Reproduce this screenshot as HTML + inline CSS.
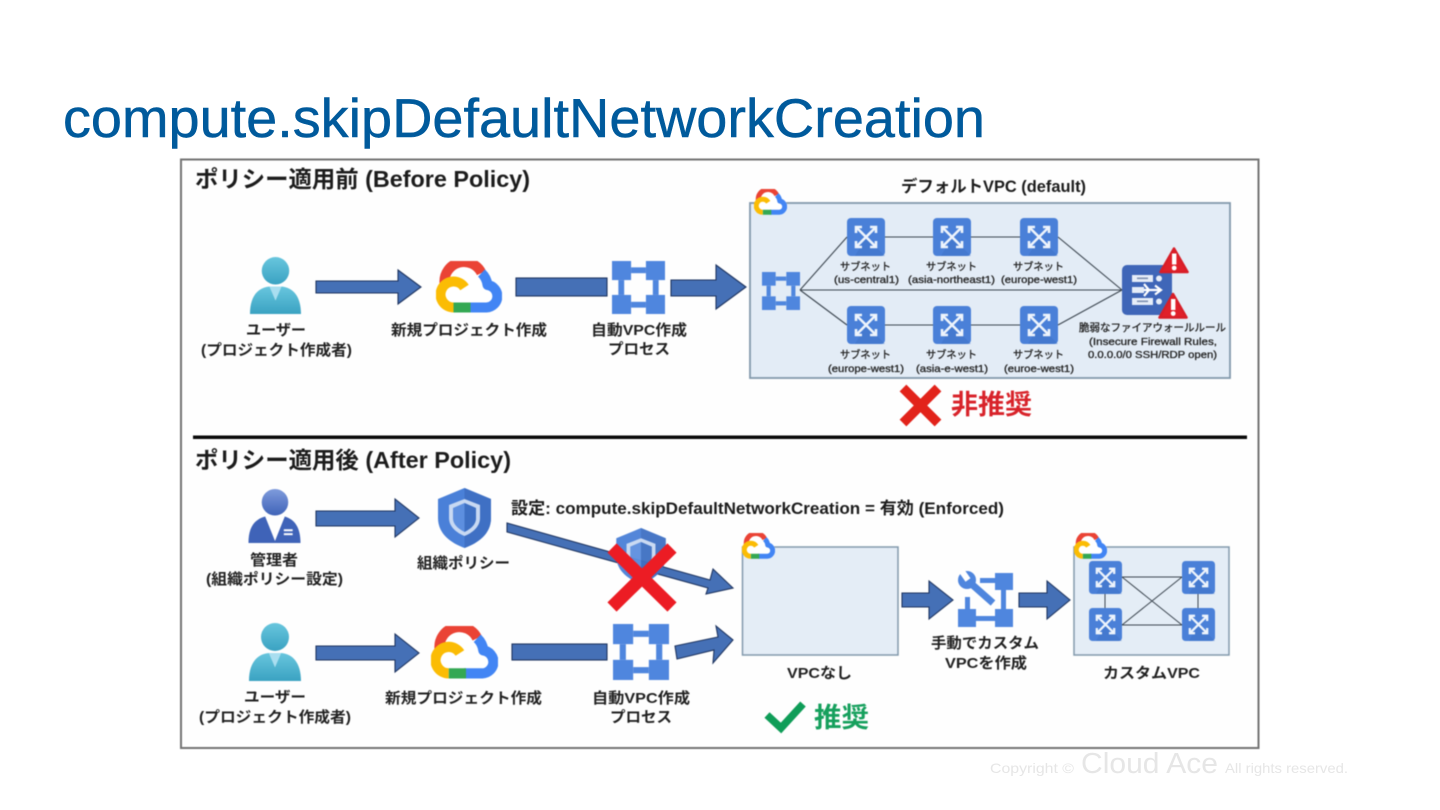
<!DOCTYPE html>
<html lang="ja"><head><meta charset="utf-8"><title>compute.skipDefaultNetworkCreation</title>
<style>
html,body{margin:0;padding:0;background:#fff;width:1440px;height:810px;overflow:hidden}
svg{display:block}
text{font-family:"Liberation Sans","Noto Sans CJK JP",sans-serif;fill:#1c1c1c}
.h{font-size:23px;font-weight:700}
.l{font-size:15px;font-weight:700;fill:#222}
.s{font-size:10.5px;fill:#222;stroke:#222;stroke-width:.3px}
.a{fill:#4570b6;stroke:#1f3560;stroke-width:1.1}
.d{filter:blur(.5px)}
</style></head><body>
<svg width="1440" height="810" viewBox="0 0 1440 810" xmlns="http://www.w3.org/2000/svg">
<defs>
<linearGradient id="tg" x1="0" y1="0" x2="0" y2="1"><stop offset="0" stop-color="#68c6de"/><stop offset="1" stop-color="#3aa2c2"/></linearGradient>
<linearGradient id="bg" x1="0" y1="0" x2="0" y2="1"><stop offset="0" stop-color="#7f9bdc"/><stop offset="1" stop-color="#3f63b8"/></linearGradient>
<symbol id="net" viewBox="0 0 100 100" preserveAspectRatio="none">
<g fill="#4f86de"><rect x="0" y="0" width="36" height="36"/><rect x="64" y="0" width="36" height="36"/><rect x="0" y="64" width="36" height="36"/><rect x="64" y="64" width="36" height="36"/><rect x="36" y="12" width="28" height="11"/><rect x="36" y="77" width="28" height="11"/><rect x="12" y="36" width="11" height="28"/><rect x="77" y="36" width="11" height="28"/></g>
</symbol>
<symbol id="sub" viewBox="0 0 38 38">
<rect width="38" height="38" rx="4" fill="#4a80d8"/><path d="M19 19L38 38H8Z" fill="#3f70c6" opacity=".45"/>
<g stroke="#eef4fc" stroke-width="2.600" fill="none"><path d="M10 10L28 28M28 10L10 28"/><path d="M9 15V9H15M23 9H29V15M29 23V29H23M15 29H9V23"/></g>
</symbol>
<symbol id="cloud" viewBox="0 0 65 52">
<path d="M10 22A20 20 0 0 1 44 8L52 20A14 14 0 0 1 50 50H17A17 17 0 0 1 10 22Z" fill="#fff"/>
<g fill="none" stroke-width="10" stroke-linejoin="round">
<path d="M8 22A19.500 19.500 0 0 1 45 12" stroke="#ea4335"/>
<path d="M45 12A19.500 19.500 0 0 1 51 24A11.300 11.300 0 0 1 50 46.500H32" stroke="#4285f4"/>
<path d="M34 46.500H17" stroke="#34a853"/>
<path d="M17 46.500A13 13 0 1 1 28 26.500" stroke="#fbbc04"/>
</g>
</symbol>
<symbol id="shield" viewBox="0 0 53 60">
<path d="M26.500 0L53 11V30C53 46 40 55 26.500 60C13 55 0 46 0 30V11Z" fill="#4a80d8"/>
<path d="M26.500 0L53 11V30C53 46 40 55 26.500 60Z" fill="#3f70c4"/>
<path d="M26.500 11L42 17V30C42 39 34 45 26.500 48C19 45 11 39 11 30V17Z" fill="#c8d9f2"/>
<path d="M26.500 15L38 20V30C38 37 32 41 26.500 44C21 41 15 37 15 30V20Z" fill="#5d8fdf"/>
<path d="M26.500 15L38 20V30C38 37 32 41 26.500 44Z" fill="#3e70c3"/>
</symbol>
<symbol id="user" viewBox="0 0 52 58">
<circle cx="26" cy="14" r="14" fill="url(#tg)"/>
<path d="M0 58C0 40 8 31 20 30L26 44L32 30C44 31 52 40 52 58Z" fill="url(#tg)"/>
<path d="M20 30H32L26 44Z" fill="#a9def0"/>
</symbol>
<symbol id="admin" viewBox="0 0 53 55">
<circle cx="27" cy="13.500" r="13.500" fill="url(#bg)"/>
<path d="M0 55C0 39 6 31 17 28L27 53L37 28C47 31 53 39 53 55Z" fill="#3f63b8"/>
<rect x="36" y="41" width="9" height="2" fill="#fff"/><rect x="36" y="45" width="9" height="2" fill="#fff"/>
</symbol>
<symbol id="warn" viewBox="0 0 30 27">
<path d="M15 2L28.500 25.500H1.500Z" fill="#e0202a" stroke="#d81e28" stroke-width="2.500" stroke-linejoin="round"/>
<rect x="13" y="7" width="4.400" height="11" fill="#fff"/><circle cx="15.200" cy="21.500" r="2.400" fill="#fff"/>
</symbol>
</defs>

<!-- Title -->
<text x="63" y="137" font-size="55" style="fill:#005a9c;stroke:#005a9c;stroke-width:.5px" textLength="922" lengthAdjust="spacingAndGlyphs">compute.skipDefaultNetworkCreation</text>

<g class="d">
<rect x="181" y="159.500" width="1077.500" height="588.500" fill="#fefefe" stroke="#737373" stroke-width="2"/>

<!-- Section headers -->
<text class="h" x="195" y="187" textLength="335" lengthAdjust="spacingAndGlyphs">ポリシー適用前 (Before Policy)</text>
<rect x="193" y="435.500" width="1054" height="3.500" fill="#0a0a0a"/>
<text class="h" x="195" y="468" textLength="316" lengthAdjust="spacingAndGlyphs">ポリシー適用後 (After Policy)</text>

<!-- BEFORE -->
<use href="#user" x="250" y="257" width="51" height="57"/>
<text class="l" x="246" y="335" textLength="60" lengthAdjust="spacingAndGlyphs">ユーザー</text>
<text class="l" x="201" y="355" textLength="151" lengthAdjust="spacingAndGlyphs">(プロジェクト作成者)</text>
<polygon class="a" points="316,281 398,281 398,270 421,287 398,304 398,293 316,293"/>
<use href="#cloud" x="436" y="261" width="66" height="52"/>
<text class="l" x="391" y="335" textLength="156" lengthAdjust="spacingAndGlyphs">新規プロジェクト作成</text>
<rect class="a" x="516" y="278" width="91" height="18"/>
<use href="#net" x="612" y="261" width="53" height="53"/>
<text class="l" x="591" y="335" textLength="96" lengthAdjust="spacingAndGlyphs">自動VPC作成</text>
<text class="l" x="608" y="354" textLength="62" lengthAdjust="spacingAndGlyphs">プロセス</text>
<polygon class="a" points="671,280 716,280 716,265 746,287 716,309 716,296 671,296"/>

<text x="901" y="192" font-size="16.500" font-weight="700" textLength="185" lengthAdjust="spacingAndGlyphs">デフォルトVPC (default)</text>
<rect x="750" y="203" width="480" height="175" fill="#e3ecf6" stroke="#8299ac" stroke-width="1.800"/>
<use href="#cloud" x="754" y="189" width="33" height="26"/>
<g stroke="#3c4650" stroke-width="1.100" fill="none">
<path d="M800 290L847 237M885 237H1039M1058 237L1122 290M800 290H1122M800 290L847 325M885 325H1039M1058 325L1122 290" />
</g>
<use href="#net" x="762" y="272" width="38" height="38"/>
<use href="#sub" x="847" y="218" width="38" height="38"/>
<use href="#sub" x="933" y="218" width="38" height="38"/>
<use href="#sub" x="1020" y="218" width="38" height="38"/>
<use href="#sub" x="847" y="306" width="38" height="38"/>
<use href="#sub" x="933" y="306" width="38" height="38"/>
<use href="#sub" x="1020" y="306" width="38" height="38"/>

<text class="s" x="840" y="270" textLength="51" lengthAdjust="spacingAndGlyphs">サブネット</text>
<text class="s" x="926" y="270" textLength="51" lengthAdjust="spacingAndGlyphs">サブネット</text>
<text class="s" x="1013" y="270" textLength="51" lengthAdjust="spacingAndGlyphs">サブネット</text>
<text class="s" x="834" y="283" textLength="65" lengthAdjust="spacingAndGlyphs">(us-central1)</text>
<text class="s" x="908" y="283" textLength="87" lengthAdjust="spacingAndGlyphs">(asia-northeast1)</text>
<text class="s" x="1001" y="283" textLength="76" lengthAdjust="spacingAndGlyphs">(europe-west1)</text>
<text class="s" x="840" y="358" textLength="51" lengthAdjust="spacingAndGlyphs">サブネット</text>
<text class="s" x="926" y="358" textLength="51" lengthAdjust="spacingAndGlyphs">サブネット</text>
<text class="s" x="1013" y="358" textLength="51" lengthAdjust="spacingAndGlyphs">サブネット</text>
<text class="s" x="828" y="372" textLength="76" lengthAdjust="spacingAndGlyphs">(europe-west1)</text>
<text class="s" x="916" y="372" textLength="72" lengthAdjust="spacingAndGlyphs">(asia-e-west1)</text>
<text class="s" x="1004" y="372" textLength="70" lengthAdjust="spacingAndGlyphs">(euroe-west1)</text>

<!-- firewall -->
<rect x="1122" y="265" width="50" height="50" rx="5" fill="#3f66b8"/>
<g fill="#e6edf8"><rect x="1132" y="275" width="21" height="7"/><rect x="1132" y="287" width="12" height="6"/><rect x="1132" y="298" width="21" height="7"/><circle cx="1159" cy="278.500" r="3"/><circle cx="1159" cy="301.500" r="3"/></g>
<g fill="#7d8fb0"><rect x="1137" y="277.500" width="11" height="1.600"/><rect x="1137" y="300.500" width="11" height="1.600"/></g>
<path d="M1144 290H1160M1155 285.500L1161 290L1155 294.500M1144 284L1149 290L1144 296" stroke="#fff" stroke-width="2.200" fill="none"/>
<use href="#warn" x="1159" y="246" width="30" height="28"/>
<use href="#warn" x="1158" y="291" width="30" height="29"/>
<text class="s" x="1079" y="331" textLength="147" lengthAdjust="spacingAndGlyphs">脆弱なファイアウォールルール</text>
<text class="s" x="1089" y="345" textLength="128" lengthAdjust="spacingAndGlyphs">(Insecure Firewall Rules,</text>
<text class="s" x="1088" y="358" textLength="129" lengthAdjust="spacingAndGlyphs">0.0.0.0/0 SSH/RDP open)</text>

<path d="M903 388L938 423M938 388L903 423" stroke="#e2231a" stroke-width="9.500" fill="none"/>
<text x="951" y="414" font-size="27" font-weight="700" style="fill:#d8232a" textLength="81" lengthAdjust="spacingAndGlyphs">非推奨</text>

<!-- AFTER -->
<use href="#admin" x="248" y="489" width="53" height="54"/>
<text class="l" x="250" y="565" textLength="48" lengthAdjust="spacingAndGlyphs">管理者</text>
<text class="l" x="206" y="584" textLength="137" lengthAdjust="spacingAndGlyphs">(組織ポリシー設定)</text>
<polygon class="a" points="316,511 395,511 395,499 419,518 395,537 395,526 316,526"/>
<use href="#shield" x="438" y="488" width="53" height="60"/>
<text class="l" x="417" y="568" textLength="93" lengthAdjust="spacingAndGlyphs">組織ポリシー</text>
<text x="511" y="514" font-size="17" font-weight="700" textLength="493" lengthAdjust="spacingAndGlyphs">設定: compute.skipDefaultNetworkCreation = 有効 (Enforced)</text>

<polygon class="a" points="507,523 710,580 713,569 733,588 706,594 708,588 507,532"/>
<use href="#shield" x="614" y="528" width="54" height="56" opacity=".95"/>
<path d="M612 548L672 607M672 548L612 607" stroke="#ec1c24" stroke-width="13" fill="none"/>

<use href="#user" x="249" y="623" width="52" height="58"/>
<text class="l" x="244" y="702" textLength="62" lengthAdjust="spacingAndGlyphs">ユーザー</text>
<text class="l" x="199" y="722" textLength="152" lengthAdjust="spacingAndGlyphs">(プロジェクト作成者)</text>
<polygon class="a" points="316,646 395,646 395,634 419,653 395,672 395,660 316,660"/>
<use href="#cloud" x="431" y="626" width="67" height="53"/>
<text class="l" x="385" y="703" textLength="157" lengthAdjust="spacingAndGlyphs">新規プロジェクト作成</text>
<rect class="a" x="512" y="644" width="95" height="16"/>
<use href="#net" x="613" y="624" width="56" height="56"/>
<text class="l" x="592" y="703" textLength="98" lengthAdjust="spacingAndGlyphs">自動VPC作成</text>
<text class="l" x="610" y="722" textLength="62" lengthAdjust="spacingAndGlyphs">プロセス</text>
<polygon class="a" points="675,646 718,637 716,626 733,640 713,663 714,650 677,659"/>

<rect x="742.500" y="547" width="155.500" height="108" fill="#e4edf6" stroke="#8299ac" stroke-width="1.500"/>
<use href="#cloud" x="742" y="533" width="33" height="26"/>
<text class="l" x="787" y="678" textLength="65" lengthAdjust="spacingAndGlyphs">VPCなし</text>

<polygon class="a" points="902,593 929,593 929,581 953,600 929,619 929,607 902,607"/>
<!-- tool icon -->
<g transform="translate(958 572)" fill="#4f86de">
<rect x="37" y="1" width="18" height="17"/><rect x="22" y="6" width="15" height="5"/><rect x="43" y="18" width="5" height="19"/>
<rect x="37" y="37" width="18" height="18"/><rect x="0" y="37" width="18" height="18"/><rect x="18" y="44" width="19" height="5"/><rect x="7" y="25" width="5" height="12"/>
<path d="M9 8L35 31" stroke="#4f86de" stroke-width="7"/>
<circle cx="9" cy="8" r="9"/>
<path d="M10 8L3 -2" stroke="#fff" stroke-width="6"/>
</g>
<text class="l" x="931" y="648" textLength="108" lengthAdjust="spacingAndGlyphs">手動でカスタム</text>
<text class="l" x="945" y="668" textLength="82" lengthAdjust="spacingAndGlyphs">VPCを作成</text>
<polygon class="a" points="1019,593 1047,593 1047,581 1070,600 1047,619 1047,607 1019,607"/>

<rect x="1074" y="547" width="155" height="108" fill="#e4edf6" stroke="#8299ac" stroke-width="1.500"/>
<use href="#cloud" x="1074" y="533" width="33" height="26"/>
<path d="M1122 577H1182M1122 625H1182M1122 577L1182 625M1182 577L1122 625M1105 593V608M1198 593V608" stroke="#3c4650" stroke-width="1" fill="none"/>
<use href="#sub" x="1089" y="561" width="33" height="33"/>
<use href="#sub" x="1182" y="561" width="33" height="33"/>
<use href="#sub" x="1089" y="608" width="33" height="33"/>
<use href="#sub" x="1182" y="608" width="33" height="33"/>
<text class="l" x="1103" y="678" textLength="97" lengthAdjust="spacingAndGlyphs">カスタムVPC</text>

<path d="M767 715L781 728L803 704" stroke="#0f9d58" stroke-width="7.500" fill="none"/>
<text x="814" y="727" font-size="27" font-weight="700" style="fill:#16a05d" textLength="55" lengthAdjust="spacingAndGlyphs">推奨</text>
</g>

<!-- Footer -->
<g>
<text x="990" y="773" font-size="14" style="fill:#e6e6e6" textLength="84" lengthAdjust="spacingAndGlyphs">Copyright ©</text>
<text x="1081" y="773" font-size="29" style="fill:#e6e6e6" textLength="137" lengthAdjust="spacingAndGlyphs">Cloud Ace</text>
<text x="1225" y="773" font-size="14" style="fill:#e6e6e6" textLength="123" lengthAdjust="spacingAndGlyphs">All rights reserved.</text>
</g>
</svg>
</body></html>
